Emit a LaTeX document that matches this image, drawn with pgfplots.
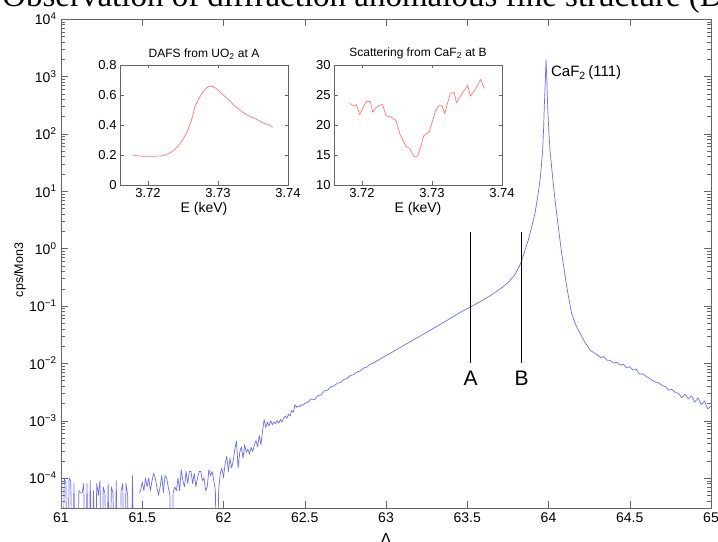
\documentclass[border=0pt]{standalone}
\usepackage{fontspec}
\setmainfont{Liberation Sans}
\newfontfamily\serif{Liberation Serif}
\usepackage{pgfplots}
\pgfplotsset{compat=1.18}

\newcommand{\fs}[1]{\fontsize{#1bp}{#1bp}\selectfont}

\pgfplotsset{
  matlab/.style={
    scale only axis, anchor=south west,
    tick align=inside,
    axis line style={black!60}, tick style={black!60},
    every axis plot/.append style={line join=round},
  },
}

\begin{document}
\begin{tikzpicture}[x=1bp,y=1bp]
\useasboundingbox (0,0) rectangle (718,542);

% cut-off title above the plot
\node[anchor=base west, inner sep=0, font=\serif\fs{33}] at (2,535)
  {Observation of diffraction anomalous fine structure (DAFS)};

\begin{axis}[matlab,
  at={(61bp,34bp)}, width=650bp, height=489bp,
  xmin=61, xmax=65, ymin=3e-5, ymax=1e4, ymode=log,
  xtick={61,61.5,62,62.5,63,63.5,64,64.5,65},
  xticklabels={61,61.5,62,62.5,63,63.5,64,64.5,65},
  ytick={1e-4,1e-3,1e-2,1e-1,1,1e1,1e2,1e3,1e4},
  yticklabels={10\textsuperscript{−4},10\textsuperscript{−3},10\textsuperscript{−2},10\textsuperscript{−1},
    10\textsuperscript{0},10\textsuperscript{1},10\textsuperscript{2},10\textsuperscript{3},10\textsuperscript{4}},
  minor ytick={3e-5,4e-5,5e-5,6e-5,7e-5,8e-5,9e-5,
    2e-4,3e-4,4e-4,5e-4,6e-4,7e-4,8e-4,9e-4,
    2e-3,3e-3,4e-3,5e-3,6e-3,7e-3,8e-3,9e-3,
    2e-2,3e-2,4e-2,5e-2,6e-2,7e-2,8e-2,9e-2,
    0.2,0.3,0.4,0.5,0.6,0.7,0.8,0.9,
    2,3,4,5,6,7,8,9,20,30,40,50,60,70,80,90,
    200,300,400,500,600,700,800,900,2000,3000,4000,5000,6000,7000,8000,9000},
  major tick length=7bp, minor tick length=4bp,
  ticklabel style={font=\fs{14}, black},
  xticklabel style={yshift=-1bp},
  yticklabel style={xshift=-1bp},
  unbounded coords=jump,
]
\addplot[color={rgb,1:red,0.42;green,0.42;blue,1}, line width=0.7bp] coordinates {
(61.00,1.4e-4) (61.01,1e-6) (61.02,1.0e-4) (61.03,8e-5) (61.04,1e-6) (61.05,1.0e-4)
(61.06,9e-5) (61.07,1e-6) (61.08,8e-5) (61.09,1e-6) (61.10,1e-6) (61.11,6e-5)
(61.12,5.5e-5) (61.13,5.5e-5) (61.14,8e-5) (61.15,1e-6) (61.16,8e-5) (61.17,1e-6)
(61.18,9e-5) (61.19,1e-6) (61.20,6e-5) (61.21,1e-6) (61.22,8e-5) (61.23,5e-5)
(61.24,9e-5) (61.25,1e-6) (61.26,7e-5) (61.27,5.5e-5) (61.28,1e-6) (61.29,8e-5)
(61.30,1e-6) (61.31,7e-5) (61.32,5.5e-5) (61.33,1e-6) (61.34,9e-5) (61.35,1e-6)
(61.36,1e-6) (61.37,6e-5) (61.38,8e-5) (61.39,1e-6) (61.40,8e-5) (61.41,5e-5)
(61.42,1e-6) (61.43,1e-6) (61.44,1.1e-4) (61.45,1e-6) (61.46,nan)
(61.48,5.5e-5) (61.49,6e-5) (61.50,8.5e-5) (61.51,6e-5) (61.52,1.0e-4) (61.53,7e-5)
(61.54,1.0e-4) (61.55,6e-5) (61.56,9e-5) (61.57,1.2e-4) (61.58,1.0e-4) (61.59,7e-5)
(61.60,5e-5) (61.61,7e-5) (61.62,1.1e-4) (61.63,5.5e-5) (61.64,1.1e-4) (61.65,1.0e-4)
(61.66,7e-5) (61.67,5e-5) (61.68,1e-6) (61.69,5.5e-5) (61.70,7e-5) (61.71,6e-5)
(61.72,1.0e-4) (61.73,6e-5) (61.74,1.4e-4) (61.75,9e-5) (61.76,7e-5) (61.77,1.3e-4)
(61.78,8e-5) (61.79,1.3e-4) (61.80,1.3e-4) (61.81,8e-5) (61.82,1.2e-4) (61.83,7e-5)
(61.84,1.0e-4) (61.85,1.3e-4) (61.86,1.3e-4) (61.87,9e-5) (61.88,1.0e-4) (61.89,6e-5)
(61.90,7e-5) (61.91,1.4e-4) (61.92,1.1e-4) (61.93,1.3e-4) (61.94,9e-5) (61.95,6e-5)
(61.96,1e-6) (61.97,6e-5) (61.98,1.2e-4) (61.99,1.5e-4)
(62.00,1.0e-4) (62.01,1.8e-4) (62.02,2.4e-4) (62.03,1.3e-4) (62.04,2.2e-4) (62.05,1.5e-4)
(62.06,2.0e-4) (62.07,3.2e-4) (62.08,4.4e-4) (62.09,1.5e-4) (62.10,2.8e-4) (62.11,3.5e-4)
(62.12,2.2e-4) (62.13,3.8e-4) (62.14,2.8e-4) (62.15,3.2e-4) (62.16,2.6e-4) (62.17,3.4e-4)
(62.18,2.9e-4) (62.19,3.8e-4) (62.20,4.5e-4) (62.21,3.5e-4) (62.22,5.5e-4) (62.23,3.8e-4)
(62.24,6.5e-4) (62.25,1.05e-3) (62.26,7.5e-4) (62.27,9.5e-4) (62.28,8.0e-4) (62.29,1.0e-3)
(62.30,8.5e-4) (62.31,9.5e-4) (62.32,8.8e-4) (62.33,1.0e-3) (62.34,9.0e-4) (62.35,1.05e-3)
(62.36,9.5e-4) (62.37,1.1e-3) (62.38,1.2e-3) (62.39,1.1e-3) (62.40,1.3e-3) (62.41,1.2e-3)
(62.42,1.5e-3) (62.43,1.4e-3) (62.44,1.9e-3) (62.45,1.7e-3) (62.46,1.8e-3) (62.47,1.75e-3)
(62.48,1.9e-3) (62.49,1.85e-3) (62.50,2.0e-3) (62.52,2.1e-3) (62.54,2.4e-3) (62.56,2.3e-3)
(62.58,2.7e-3) (62.60,2.8e-3) (62.62,3.3e-3) (62.64,3.4e-3) (62.66,3.9e-3) (62.68,4.0e-3)
(62.70,4.5e-3) (62.72,4.6e-3) (62.74,5.2e-3) (62.76,5.4e-3) (62.78,6.1e-3) (62.80,6.3e-3)
(62.82,7.0e-3) (62.84,7.3e-3) (62.86,8.2e-3) (62.88,8.5e-3) (62.90,9.5e-3) (62.92,1.0e-2)
(62.96,1.17e-2) (63.00,1.36e-2) (63.04,1.57e-2) (63.08,1.83e-2) (63.12,2.13e-2) (63.16,2.47e-2)
(63.20,2.87e-2) (63.24,3.34e-2) (63.28,3.88e-2) (63.33,4.68e-2) (63.38,5.69e-2) (63.42,6.65e-2)
(63.46,7.78e-2) (63.52,9.6e-2) (63.56,0.110) (63.60,0.128) (63.64,0.150) (63.68,0.178)
(63.72,0.215) (63.76,0.27) (63.79,0.34) (63.81,0.43) (63.83,0.56) (63.856,0.95)
(63.876,1.41) (63.897,2.4)
(63.917,4.12) (63.933,7.8) (63.948,15.7) (63.956,27) (63.964,52) (63.970,126)
(63.974,295) (63.980,794) (63.985,1930) (63.990,794) (63.995,295) (64.002,112)
(64.009,52) (64.025,17.8) (64.040,7.0) (64.060,2.4) (64.081,0.83) (64.097,0.42)
(64.112,0.217) (64.127,0.126) (64.142,0.0746) (64.165,0.0479) (64.194,0.0334) (64.225,0.0229)
(64.255,0.0171) (64.28,0.0152) (64.30,0.0141) (64.32,0.0125) (64.34,0.0131) (64.36,0.0113)
(64.38,0.0112) (64.40,0.0101) (64.42,0.0104) (64.44,0.0093) (64.46,0.0097) (64.48,0.0083)
(64.50,0.0087) (64.52,0.0076) (64.54,0.0079) (64.56,0.0064) (64.58,0.0066) (64.60,0.0059)
(64.62,0.0055) (64.64,0.0050) (64.66,0.0047) (64.68,0.0045) (64.70,0.0041) (64.72,0.0039)
(64.74,0.0034) (64.76,0.0035) (64.78,0.0031) (64.80,0.0030) (64.82,0.0025) (64.84,0.0029)
(64.86,0.0024) (64.88,0.0027) (64.90,0.0021) (64.92,0.0025) (64.94,0.0019) (64.96,0.0022)
(64.98,0.0016) (65.00,0.0018)
};
\draw[black, line width=0.8bp] (axis cs:63.52,1.95) -- (axis cs:63.52,0.0102);
\draw[black, line width=0.8bp] (axis cs:63.835,1.95) -- (axis cs:63.835,0.0102);
\node[font=\fs{21}] at (axis cs:63.52,5.4e-3) {A};
\node[font=\fs{21}] at (axis cs:63.835,5.4e-3) {B};
\node[anchor=west, font=\fs{15}, inner sep=0] at (axis cs:64.015,1150) {CaF\textsubscript{2}\,(111)};
\end{axis}

\node[rotate=90, font=\fs{12.5}] at (20,272) {cps/Mon3};
\node[anchor=north, font=\fs{16}, inner sep=0] at (386,9) {Λ};

% inset: DAFS from UO2
\begin{axis}[matlab,
  at={(120bp,357bp)}, width=168bp, height=120bp,
  xmin=3.716, xmax=3.74, ymin=0, ymax=0.8,
  xtick={3.72,3.73,3.74}, xticklabels={3.72,3.73,3.74},
  ytick={0,0.2,0.4,0.6,0.8}, yticklabels={0,0.2,0.4,0.6,0.8},
  major tick length=3.5bp,
  ticklabel style={font=\fs{13}, black},
  xlabel={E (keV)}, xlabel style={font=\fs{14}, yshift=2bp},
  title={DAFS from UO\textsubscript{2} at A}, title style={font=\fs{12}, yshift=-4bp},
]
\addplot[color={rgb,1:red,1;green,0.45;blue,0.45}, line width=0.7bp] coordinates {
(3.7178,0.200) (3.7185,0.195) (3.7192,0.192) (3.7200,0.192) (3.7210,0.192) (3.7218,0.193)
(3.7225,0.200) (3.7232,0.215) (3.7238,0.235) (3.7244,0.265) (3.7250,0.305) (3.7256,0.355)
(3.7262,0.430) (3.7267,0.520) (3.7272,0.570) (3.7277,0.610) (3.7282,0.640) (3.7287,0.658)
(3.7292,0.657) (3.7297,0.645) (3.7303,0.620) (3.7310,0.590) (3.7317,0.560) (3.7323,0.530)
(3.7330,0.505) (3.7337,0.480) (3.7345,0.458) (3.7352,0.445) (3.7360,0.425) (3.7367,0.408)
(3.7372,0.403) (3.7378,0.385)
};
\end{axis}

% inset: scattering from CaF2
\begin{axis}[matlab,
  at={(334bp,357bp)}, width=168bp, height=120bp,
  xmin=3.716, xmax=3.74, ymin=10, ymax=30,
  xtick={3.72,3.73,3.74}, xticklabels={3.72,3.73,3.74},
  ytick={10,15,20,25,30}, yticklabels={10,15,20,25,30},
  major tick length=3.5bp,
  ticklabel style={font=\fs{13}, black},
  xlabel={E (keV)}, xlabel style={font=\fs{14}, yshift=2bp},
  title={Scattering from CaF\textsubscript{2} at B}, title style={font=\fs{12}, yshift=-4bp},
]
\addplot[color={rgb,1:red,1;green,0.45;blue,0.45}, line width=0.7bp] coordinates {
(3.71824,23.6) (3.71881,23.2) (3.71919,23.4) (3.71967,21.7) (3.72024,23.1) (3.72062,23.9)
(3.72119,23.9) (3.72152,22.1) (3.72190,22.8) (3.72248,23.3) (3.72295,23.4) (3.72343,21.5)
(3.72405,21.4) (3.72486,20.7) (3.72548,18.3) (3.72629,16.4) (3.72681,16.1) (3.72738,14.8)
(3.72795,14.8) (3.72843,16.5) (3.72881,18.2) (3.72962,18.9) (3.73048,22.3) (3.73095,23.2)
(3.73143,23.2) (3.73181,21.9) (3.73262,25.3) (3.73319,25.4) (3.73348,23.7) (3.73429,25.2)
(3.73510,26.6) (3.73548,24.8) (3.73619,25.9) (3.73695,27.6) (3.73748,26.1)
};
\end{axis}
\end{tikzpicture}
\end{document}
